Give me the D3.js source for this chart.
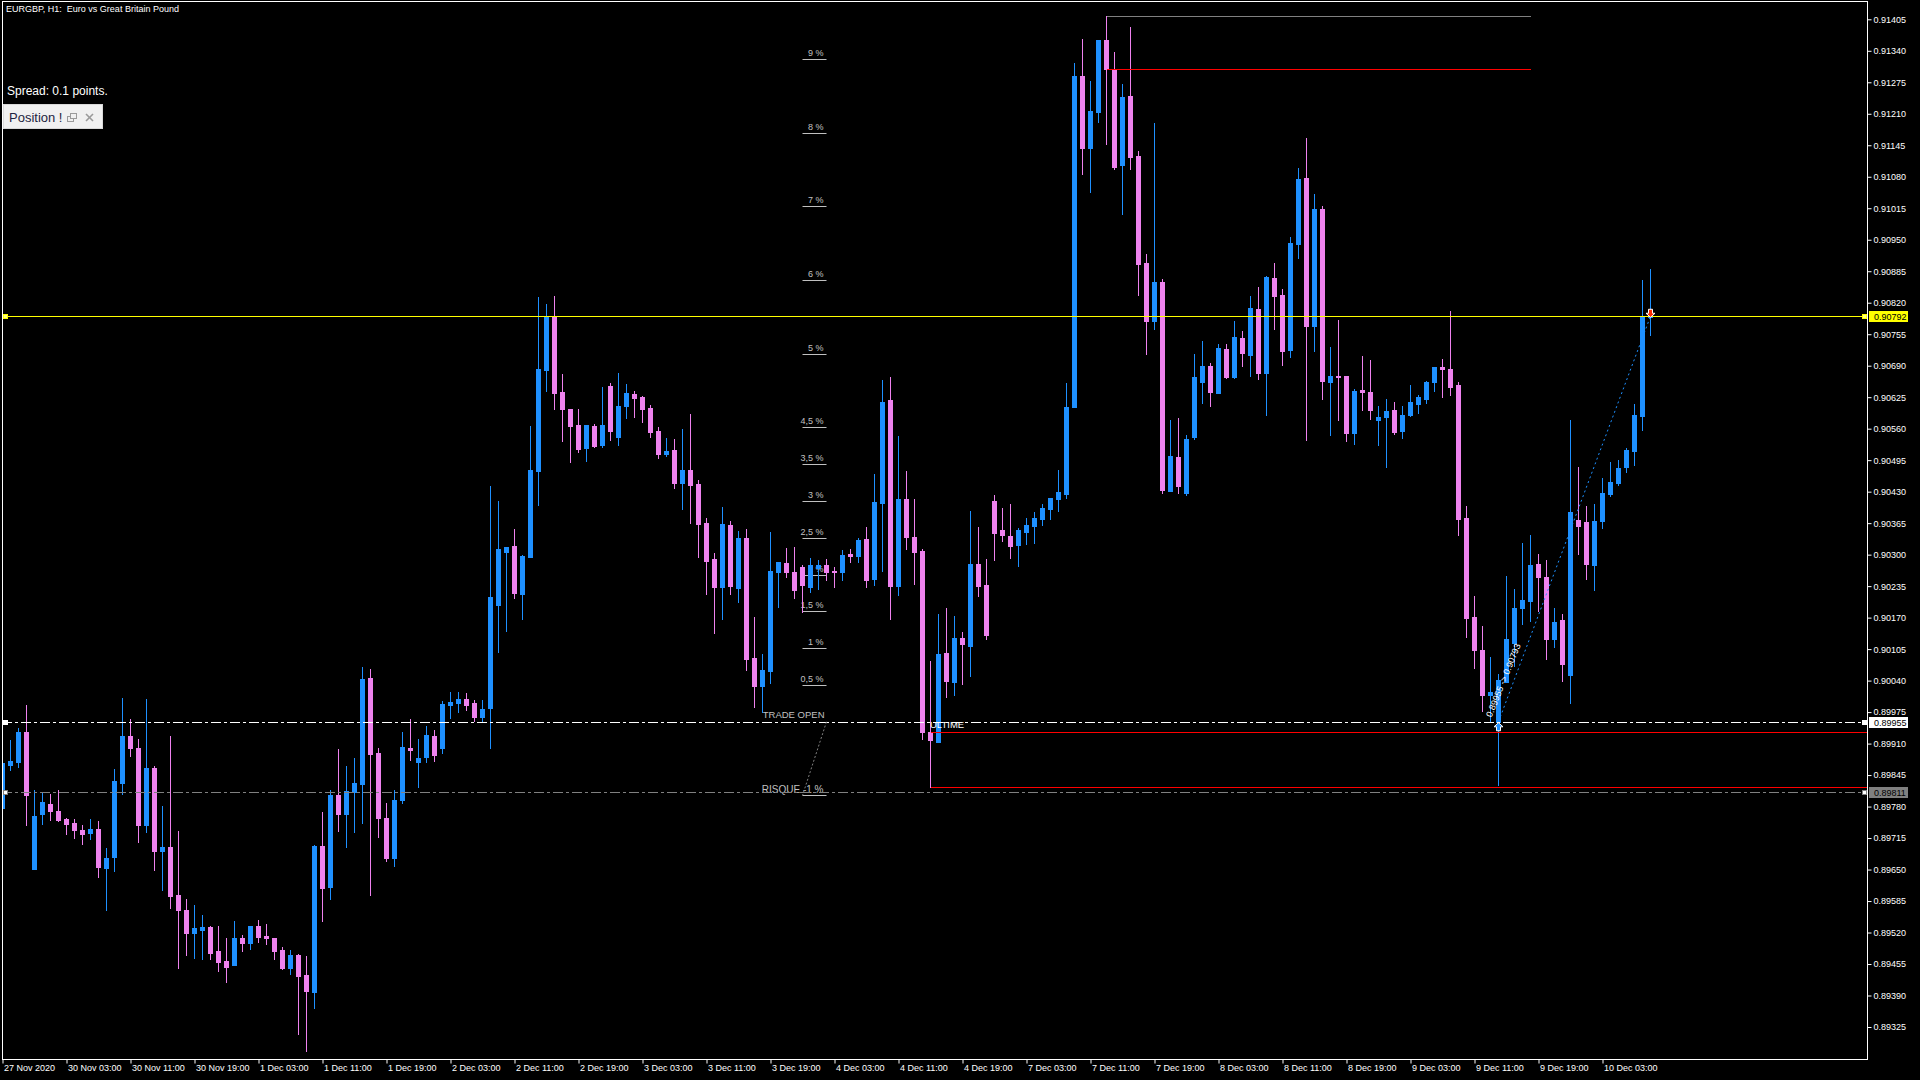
<!DOCTYPE html>
<html><head><meta charset="utf-8">
<script src="https://cdnjs.cloudflare.com/ajax/libs/d3/7.8.5/d3.min.js"></script>
<style>
html,body{margin:0;padding:0;background:#000;overflow:hidden;}
svg{display:block;}
text{font-family:"Liberation Sans",Arial,sans-serif;}
</style></head><body>
<svg id="chart" width="1920" height="1080"></svg>
<script>
// ---------- DATA ----------
const opens=[
0.89778,0.89866,0.89872,0.89934,0.89651,0.89765,0.89785,0.89771,0.89754,0.89746,
0.89732,0.89725,0.89734,0.89653,0.89676,0.89829,0.89926,0.89901,0.89742,0.89859,
0.89688,0.89696,0.89597,0.89566,0.89519,0.89525,0.89531,0.89482,0.89461,0.89453,
0.89509,0.89498,0.89533,0.89513,0.89509,0.89484,0.89447,0.89473,0.89432,0.89397,
0.89698,0.89614,0.89804,0.89765,0.89810,0.89826,0.90045,0.89890,0.89756,0.89674,
0.89793,0.89901,0.89872,0.89882,0.89926,0.89901,0.89990,0.89994,0.90002,0.89994,
0.89965,0.89984,0.90196,0.90306,0.90318,0.90219,0.90295,0.90473,0.90681,0.90793,
0.90636,0.90601,0.90568,0.90520,0.90566,0.90526,0.90648,0.90543,0.90607,0.90632,
0.90626,0.90603,0.90555,0.90508,0.90516,0.90448,0.90475,0.90446,0.90365,0.90291,
0.90233,0.90361,0.90231,0.90334,0.90087,0.90029,0.90060,0.90264,0.90283,0.90264,
0.90275,0.90233,0.90273,0.90279,0.90266,0.90264,0.90301,0.90297,0.90332,0.90250,
0.90407,0.90619,0.90235,0.90415,0.90337,0.90308,0.89934,0.89914,0.90097,0.90038,
0.90128,0.90111,0.90281,0.90237,0.90411,0.90351,0.90339,0.90320,0.90347,0.90359,
0.90374,0.90394,0.90414,0.90426,0.90604,0.91288,0.91139,0.91214,0.91362,0.91302,
0.91105,0.91247,0.91123,0.90902,0.90782,0.90863,0.90431,0.90501,0.90427,0.90543,
0.90656,0.90690,0.90634,0.90724,0.90667,0.90747,0.90712,0.90807,0.90675,0.90871,
0.90836,0.90722,0.90941,0.91078,0.90772,0.91014,0.90657,0.90669,0.90669,0.90552,
0.90640,0.90636,0.90577,0.90585,0.90598,0.90556,0.90589,0.90610,0.90622,0.90657,
0.90687,0.90683,0.90650,0.90376,0.90171,0.90104,0.90011,0.89954,0.90038,0.90118,
0.90189,0.90205,0.90281,0.90254,0.90125,0.90165,0.90052,0.90372,0.90367,0.90279,
0.90370,0.90425,0.90448,0.90480,0.90514,0.90587,0.90791];
const highs=[
0.89873,0.89917,0.89942,0.89990,0.89814,0.89807,0.89806,0.89814,0.89756,0.89754,
0.89742,0.89754,0.89750,0.89694,0.89857,0.90004,0.89961,0.89919,0.90002,0.89864,
0.89781,0.89926,0.89729,0.89589,0.89577,0.89556,0.89533,0.89533,0.89509,0.89544,
0.89515,0.89533,0.89546,0.89537,0.89509,0.89490,0.89484,0.89476,0.89471,0.89701,
0.89769,0.89814,0.89899,0.89864,0.89880,0.90068,0.90064,0.89901,0.89787,0.89814,
0.89934,0.89961,0.89919,0.89946,0.89938,0.89998,0.90017,0.90017,0.90015,0.90000,
0.90000,0.90442,0.90411,0.90316,0.90353,0.90299,0.90566,0.90832,0.90817,0.90834,
0.90673,0.90601,0.90601,0.90568,0.90570,0.90646,0.90654,0.90675,0.90652,0.90638,
0.90628,0.90609,0.90564,0.90541,0.90539,0.90559,0.90590,0.90454,0.90376,0.90303,
0.90398,0.90370,0.90349,0.90353,0.90171,0.90095,0.90347,0.90285,0.90314,0.90316,
0.90279,0.90293,0.90289,0.90291,0.90275,0.90310,0.90312,0.90334,0.90357,0.90467,
0.90661,0.90667,0.90545,0.90473,0.90415,0.90312,0.90081,0.90177,0.90190,0.90174,
0.90140,0.90390,0.90357,0.90291,0.90423,0.90397,0.90404,0.90356,0.90375,0.90388,
0.90404,0.90417,0.90474,0.90654,0.91315,0.91364,0.91278,0.91362,0.91412,0.91337,
0.91272,0.91389,0.91134,0.90920,0.91191,0.90869,0.90578,0.90582,0.90546,0.90715,
0.90742,0.90695,0.90734,0.90735,0.90782,0.90762,0.90834,0.90852,0.90875,0.90902,
0.90848,0.90956,0.91099,0.91160,0.91044,0.91020,0.90728,0.90784,0.90669,0.90642,
0.90710,0.90702,0.90607,0.90621,0.90615,0.90607,0.90650,0.90630,0.90659,0.90687,
0.90704,0.90803,0.90657,0.90401,0.90215,0.90153,0.90089,0.90054,0.90256,0.90229,
0.90325,0.90340,0.90301,0.90289,0.90190,0.90178,0.90578,0.90481,0.90401,0.90404,
0.90458,0.90491,0.90495,0.90520,0.90611,0.90867,0.90890];
const lows=[
0.89776,0.89855,0.89862,0.89742,0.89651,0.89744,0.89752,0.89750,0.89723,0.89715,
0.89703,0.89713,0.89635,0.89566,0.89647,0.89806,0.89884,0.89707,0.89727,0.89649,
0.89608,0.89570,0.89447,0.89473,0.89467,0.89465,0.89465,0.89440,0.89418,0.89453,
0.89482,0.89486,0.89500,0.89496,0.89465,0.89445,0.89434,0.89310,0.89275,0.89364,
0.89544,0.89589,0.89729,0.89696,0.89727,0.89746,0.89597,0.89717,0.89668,0.89657,
0.89787,0.89876,0.89820,0.89872,0.89875,0.89890,0.89963,0.89975,0.89979,0.89957,
0.89957,0.89900,0.90099,0.90142,0.90211,0.90167,0.90295,0.90403,0.90638,0.90601,
0.90535,0.90491,0.90512,0.90493,0.90522,0.90522,0.90537,0.90526,0.90582,0.90584,
0.90574,0.90543,0.90500,0.90504,0.90438,0.90394,0.90365,0.90295,0.90219,0.90138,
0.90167,0.90219,0.90202,0.90062,0.89986,0.89975,0.90035,0.90192,0.90254,0.90211,
0.90182,0.90223,0.90229,0.90248,0.90233,0.90248,0.90285,0.90285,0.90233,0.90237,
0.90266,0.90167,0.90217,0.90312,0.90240,0.89920,0.89821,0.89914,0.90007,0.90011,
0.90034,0.90050,0.90215,0.90125,0.90289,0.90329,0.90293,0.90277,0.90321,0.90325,
0.90361,0.90374,0.90390,0.90416,0.90604,0.91086,0.91049,0.91193,0.91148,0.91095,
0.91003,0.91096,0.90836,0.90715,0.90766,0.90428,0.90431,0.90427,0.90424,0.90538,
0.90613,0.90607,0.90634,0.90665,0.90665,0.90690,0.90669,0.90663,0.90589,0.90766,
0.90692,0.90708,0.90913,0.90537,0.90720,0.90622,0.90546,0.90578,0.90534,0.90529,
0.90599,0.90580,0.90527,0.90480,0.90548,0.90541,0.90587,0.90593,0.90614,0.90637,
0.90626,0.90630,0.90340,0.90129,0.90065,0.89977,0.89956,0.89824,0.90038,0.90070,
0.90156,0.90162,0.90183,0.90084,0.90110,0.90040,0.89993,0.90302,0.90249,0.90228,
0.90356,0.90422,0.90444,0.90471,0.90484,0.90558,0.90754];
const closes=[
0.89869,0.89874,0.89934,0.89804,0.89760,0.89789,0.89771,0.89752,0.89745,0.89732,
0.89723,0.89734,0.89655,0.89674,0.89833,0.89926,0.89901,0.89742,0.89859,0.89688,
0.89696,0.89595,0.89566,0.89519,0.89529,0.89531,0.89478,0.89459,0.89449,0.89509,
0.89498,0.89533,0.89511,0.89509,0.89482,0.89447,0.89473,0.89430,0.89399,0.89698,
0.89612,0.89804,0.89765,0.89812,0.89829,0.90043,0.89888,0.89756,0.89674,0.89793,
0.89903,0.89897,0.89880,0.89928,0.89887,0.89992,0.89996,0.90002,0.89990,0.89965,
0.89981,0.90213,0.90312,0.90316,0.90221,0.90297,0.90475,0.90683,0.90793,0.90634,
0.90601,0.90566,0.90518,0.90568,0.90524,0.90568,0.90555,0.90607,0.90634,0.90623,
0.90601,0.90553,0.90508,0.90514,0.90448,0.90475,0.90444,0.90363,0.90287,0.90233,
0.90363,0.90235,0.90334,0.90085,0.90029,0.90062,0.90266,0.90285,0.90264,0.90227,
0.90237,0.90279,0.90279,0.90264,0.90264,0.90299,0.90297,0.90330,0.90248,0.90409,
0.90615,0.90235,0.90415,0.90337,0.90306,0.89934,0.89917,0.90095,0.90039,0.90128,
0.90115,0.90281,0.90235,0.90134,0.90345,0.90340,0.90318,0.90351,0.90361,0.90375,
0.90397,0.90417,0.90429,0.90605,0.91288,0.91139,0.91216,0.91362,0.91302,0.91100,
0.91245,0.91121,0.90900,0.90782,0.90863,0.90433,0.90503,0.90442,0.90539,0.90667,
0.90690,0.90636,0.90726,0.90667,0.90749,0.90717,0.90809,0.90675,0.90873,0.90834,
0.90720,0.90943,0.91075,0.90772,0.91014,0.90659,0.90669,0.90667,0.90552,0.90638,
0.90635,0.90599,0.90584,0.90597,0.90554,0.90588,0.90615,0.90625,0.90657,0.90687,
0.90684,0.90647,0.90374,0.90170,0.90104,0.90011,0.90017,0.90041,0.90126,0.90190,
0.90207,0.90278,0.90254,0.90125,0.90161,0.90075,0.90388,0.90360,0.90281,0.90369,
0.90427,0.90450,0.90479,0.90516,0.90588,0.90791,0.90792];

const timeLabels=["27 Nov 2020","30 Nov 03:00","30 Nov 11:00","30 Nov 19:00","1 Dec 03:00","1 Dec 11:00","1 Dec 19:00",
"2 Dec 03:00","2 Dec 11:00","2 Dec 19:00","3 Dec 03:00","3 Dec 11:00","3 Dec 19:00","4 Dec 03:00","4 Dec 11:00","4 Dec 19:00",
"7 Dec 03:00","7 Dec 11:00","7 Dec 19:00","8 Dec 03:00","8 Dec 11:00","8 Dec 19:00","9 Dec 03:00","9 Dec 11:00","9 Dec 19:00","10 Dec 03:00"];
const timeBarIndex=[0,8,16,24,32,40,48,56,64,72,80,88,96,104,112,120,128,136,144,152,160,168,176,184,192,200];

const priceTicks=[0.91405,0.91340,0.91275,0.91210,0.91145,0.91080,0.91015,0.90950,0.90885,0.90820,0.90755,
0.90690,0.90625,0.90560,0.90495,0.90430,0.90365,0.90300,0.90235,0.90170,0.90105,0.90040,0.89975,0.89910,
0.89845,0.89780,0.89715,0.89650,0.89585,0.89520,0.89455,0.89390,0.89325];

const pctLabels=["9 %","8 %","7 %","6 %","5 %","4,5 %","3,5 %","3 %","2,5 %","2 %","1,5 %","1 %","0,5 %"];
const pctPrices=[0.91323,0.91171,0.91019,0.90867,0.90715,0.90563,0.90487,0.90411,0.90335,0.90259,0.90183,0.90107,0.90031];

const bidPrice=0.90792, tradeOpenPrice=0.89955, riskPrice=0.89811, riskLabelPrice=0.89803;
const redLowLines=[0.89934,0.89821];       // from bar 116 to right edge
const topGrayPrice=0.91412, topRedPrice=0.91302; // from bar 138 to bar 191
const tradeOpenBar=187, tradeCloseBar=206, tradeClosePrice=0.90792;

// ---------- SETUP ----------
const W=1920,H=1080;
const L=2, R=1867, T=2, B=1059;
const BULL="#1e90ff", BEAR="#ee82ee";
const svg=d3.select("#chart");
svg.append("rect").attr("width",W).attr("height",H).attr("fill","#000");

const y=d3.scaleLinear().domain([0.91405,0.89325]).range([19.3,1027.0]);
const x=d3.scaleLinear().domain([0,206]).range([2.5,2.5+8*206]);

const defs=svg.append("defs");
defs.append("clipPath").attr("id","clip").append("rect").attr("x",L+0.5).attr("y",T).attr("width",R-L-0.5).attr("height",B-T);

const plot=svg.append("g").attr("clip-path","url(#clip)");

// percent labels (behind candles)
const pctG=plot.append("g");
const labX=x(103), ulX0=x(100);
pctG.selectAll("line.pu").data(pctPrices).join("line")
  .attr("x1",ulX0).attr("x2",labX).attr("y1",d=>Math.round(y(d))+0.5).attr("y2",d=>Math.round(y(d))+0.5)
  .attr("stroke","#c0c0c0");
pctG.selectAll("text.pt").data(pctPrices).join("text")
  .attr("x",labX-3).attr("y",d=>Math.round(y(d))-3).attr("text-anchor","end")
  .attr("font-size",9).attr("fill","#c0c0c0").text((d,i)=>pctLabels[i]);
pctG.append("text").attr("x",labX-2).attr("y",Math.round(y(tradeOpenPrice))-4).attr("text-anchor","end")
  .attr("font-size",9.5).attr("fill","#c0c0c0").text("TRADE OPEN");
pctG.append("line").attr("x1",ulX0).attr("x2",labX).attr("y1",Math.round(y(riskLabelPrice))+0.5).attr("y2",Math.round(y(riskLabelPrice))+0.5).attr("stroke","#c0c0c0");
pctG.append("text").attr("x",labX-3).attr("y",Math.round(y(riskPrice))+1).attr("text-anchor","end")
  .attr("font-size",10).attr("fill","#c0c0c0").text("RISQUE -1 %");

// candles
const bars=d3.range(opens.length).map(i=>({i,o:opens[i],h:highs[i],l:lows[i],c:closes[i]}));
const col=d=>d.c>d.o?BULL:BEAR;
plot.append("g").selectAll("line").data(bars).join("line")
  .attr("x1",d=>x(d.i)).attr("x2",d=>x(d.i))
  .attr("y1",d=>Math.round(y(d.h))).attr("y2",d=>Math.round(y(d.l))+1)
  .attr("stroke",col).attr("stroke-width",1);
plot.append("g").selectAll("rect").data(bars).join("rect")
  .attr("x",d=>x(d.i)-2.5).attr("width",5)
  .attr("y",d=>Math.round(y(Math.max(d.o,d.c))))
  .attr("height",d=>Math.max(1,Math.round(y(Math.min(d.o,d.c)))-Math.round(y(Math.max(d.o,d.c)))+1))
  .attr("fill",col);

// horizontal lines
const hl=plot.append("g").attr("shape-rendering","crispEdges");
const py=p=>Math.round(y(p))+0.5;
hl.append("line").attr("x1",x(116)).attr("x2",R).attr("y1",py(redLowLines[0])).attr("y2",py(redLowLines[0])).attr("stroke","#ff0000");
hl.append("line").attr("x1",x(116)).attr("x2",R).attr("y1",py(redLowLines[1])).attr("y2",py(redLowLines[1])).attr("stroke","#ff0000");
hl.append("line").attr("x1",x(138)).attr("x2",x(191)).attr("y1",py(topGrayPrice)).attr("y2",py(topGrayPrice)).attr("stroke","#808080");
hl.append("line").attr("x1",x(138)).attr("x2",x(191)).attr("y1",py(topRedPrice)).attr("y2",py(topRedPrice)).attr("stroke","#ff0000");
hl.append("line").attr("x1",L).attr("x2",R).attr("y1",py(tradeOpenPrice)).attr("y2",py(tradeOpenPrice)).attr("stroke","#ffffff").attr("stroke-dasharray","10,3,3,3");
hl.append("line").attr("x1",L).attr("x2",R).attr("y1",py(riskPrice)).attr("y2",py(riskPrice)).attr("stroke","#808080").attr("stroke-dasharray","10,3,3,3");
hl.append("line").attr("x1",L).attr("x2",R).attr("y1",py(bidPrice)).attr("y2",py(bidPrice)).attr("stroke","#ffff00");

// diagonal dotted risk line
plot.append("line").attr("x1",x(103)).attr("y1",y(tradeOpenPrice)).attr("x2",x(100)).attr("y2",y(riskLabelPrice))
  .attr("stroke","#808080").attr("stroke-dasharray","2,2");

// ULTIME label
plot.append("text").attr("x",x(116)-0.5).attr("y",Math.round(y(tradeOpenPrice))+6).attr("font-size",9.5).attr("fill","#ffffff").text("ULTIME");

// trade dotted line + label + arrows
plot.append("line").attr("x1",x(tradeOpenBar)).attr("y1",y(tradeOpenPrice)).attr("x2",x(tradeCloseBar)).attr("y2",y(tradeClosePrice))
  .attr("stroke",BULL).attr("stroke-dasharray","2,3");
const tx=x(tradeOpenBar)-7, ty=y(tradeOpenPrice)-4;
plot.append("text").attr("transform",`translate(${tx},${ty}) rotate(-68)`).attr("font-size",9).attr("fill","#ffffff")
  .text("0.89955 -> 0.90793");
const up=(cx,ty)=>`M${cx},${ty} L${cx+4.5},${ty+4} L${cx+2},${ty+4} L${cx+2},${ty+8} L${cx-2},${ty+8} L${cx-2},${ty+4} L${cx-4.5},${ty+4} Z`;
const dn=(cx,ty)=>`M${cx},${ty} L${cx+4.5},${ty-4} L${cx+2},${ty-4} L${cx+2},${ty-8} L${cx-2},${ty-8} L${cx-2},${ty-4} L${cx-4.5},${ty-4} Z`;
plot.append("path").attr("d",up(x(tradeOpenBar),y(tradeOpenPrice)+1)).attr("fill",BULL).attr("stroke","#fff").attr("stroke-width",1);
plot.append("path").attr("d",dn(x(tradeCloseBar),y(tradeClosePrice)+1)).attr("fill","#ff2a00").attr("stroke","#fff").attr("stroke-width",1);

// line handles
const handle=(yy,fill,stroke)=>{
  [L+1,R-5].forEach(xx=>svg.append("rect").attr("x",xx+0.5).attr("y",Math.round(yy)-2+0.5).attr("width",4).attr("height",4)
    .attr("fill",fill).attr("stroke",stroke).attr("stroke-width",1));
};
handle(y(bidPrice),"#ffff80","#ffff00");
handle(y(tradeOpenPrice),"#ffffff","#ffffff");
handle(y(riskPrice),"#ffffff","#808080");

// frame
svg.append("rect").attr("x",L+0.5).attr("y",T-0.5).attr("width",R-L).attr("height",B-T+1)
  .attr("fill","none").attr("stroke","#ffffff").attr("shape-rendering","crispEdges");

// axes
const yAxis=d3.axisRight(y).tickValues(priceTicks).tickSize(4).tickPadding(2).tickFormat(d3.format(".5f"));
const gy=svg.append("g").attr("transform",`translate(${R+0.5},0)`).call(yAxis);
gy.select(".domain").remove();
gy.selectAll("line").attr("stroke","#fff");
gy.selectAll("text").attr("fill","#fff").attr("font-size",9).attr("font-family",'"Liberation Sans",Arial,sans-serif');

const xAxis=d3.axisBottom(x).tickValues(timeBarIndex).tickSize(4).tickPadding(1).tickFormat((d,i)=>timeLabels[i]).offset(0);
const gx=svg.append("g").attr("transform",`translate(0.5,${B+0.5})`).call(xAxis);
gx.select(".domain").remove();
gx.selectAll("line").attr("stroke","#fff");
gx.selectAll("text").attr("fill","#fff").attr("font-size",9).attr("text-anchor","start").attr("x",1)
  .attr("font-family",'"Liberation Sans",Arial,sans-serif');

// price label boxes
const box=(p,bg,fg)=>{
  const yy=Math.round(y(p));
  svg.append("rect").attr("x",R+2).attr("y",yy-5).attr("width",39).attr("height",11).attr("fill",bg);
  svg.append("text").attr("x",R+7).attr("y",yy+4).attr("font-size",9).attr("fill",fg).text(p.toFixed(5));
};
box(bidPrice,"#ffff00","#000");
box(tradeOpenPrice,"#ffffff","#000");
box(riskPrice,"#808080","#000");

// title & info
svg.append("text").attr("x",6).attr("y",12).attr("font-size",9).attr("fill","#fff").style("white-space","pre")
  .text("EURGBP, H1:  Euro vs Great Britain Pound");
svg.append("text").attr("x",7).attr("y",95).attr("font-size",12).attr("fill","#fff").text("Spread: 0.1 points.");
const pb=svg.append("g");
pb.append("rect").attr("x",3.5).attr("y",104.5).attr("width",99).attr("height",24).attr("fill","#f0f0f0").attr("stroke","#d8d8d8");
pb.append("text").attr("x",9).attr("y",122).attr("font-size",13).attr("fill","#1e2440").text("Position !");
pb.append("rect").attr("x",67.5).attr("y",116.5).attr("width",6).attr("height",5).attr("fill","none").attr("stroke","#9a9a9a");
pb.append("rect").attr("x",70.5).attr("y",113.5).attr("width",6).attr("height",5).attr("fill","#f0f0f0").attr("stroke","#9a9a9a");
pb.append("line").attr("x1",86).attr("y1",114).attr("x2",93).attr("y2",121).attr("stroke","#9a9a9a").attr("stroke-width",1.6);
pb.append("line").attr("x1",93).attr("y1",114).attr("x2",86).attr("y2",121).attr("stroke","#9a9a9a").attr("stroke-width",1.6);
</script>
</body></html>
